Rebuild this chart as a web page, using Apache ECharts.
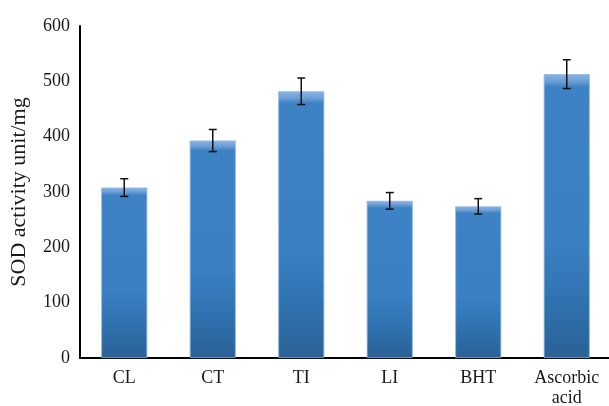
<!DOCTYPE html>
<html>
<head>
<meta charset="utf-8">
<script src="https://cdn.jsdelivr.net/npm/echarts@6/dist/echarts.min.js"></script>
<style>html,body{margin:0;padding:0;background:#fff;}#c{width:609px;height:406px;}</style>
</head>
<body>
<div id="c"></div>
<script>
const categories = ['CL', 'CT', 'TI', 'LI', 'BHT', 'Ascorbic\nacid'];
const values = [308, 393, 482, 284, 274, 513];
const errors = [16, 20, 24, 15, 14, 26];
const yTicks = [0, 100, 200, 300, 400, 500, 600];

const chart = echarts.init(document.getElementById('c'), null, {renderer: 'canvas'});
const font = '"Liberation Serif", "DejaVu Serif", serif';
const errData = values.map((v, i) => [i, v - errors[i], v + errors[i]]);

chart.setOption({
  animation: false,
  backgroundColor: '#fff',
  grid: {left: 80, top: 26, width: 531, height: 332, containLabel: false, outerBoundsMode: 'none'},
  xAxis: {
    type: 'category',
    data: categories,
    axisLine: {lineStyle: {color: '#000', width: 2}},
    axisTick: {show: false},
    axisLabel: {color: '#1a1a1a', fontFamily: font, fontSize: 18, margin: 10, lineHeight: 20}
  },
  yAxis: {
    type: 'value',
    min: yTicks[0], max: yTicks[yTicks.length - 1], interval: 100,
    name: 'SOD activity unit/mg',
    nameLocation: 'middle',
    nameGap: 50,
    nameTextStyle: {color: '#1a1a1a', fontFamily: font, fontSize: 22},
    axisLine: {show: true, lineStyle: {color: '#000', width: 2}},
    axisTick: {show: false},
    splitLine: {show: false},
    axisLabel: {color: '#1a1a1a', fontFamily: font, fontSize: 18, margin: 10}
  },
  series: [
    {
      type: 'bar',
      data: values,
      barWidth: '52%',
      itemStyle: {
        borderColor: '#8db6e2',
        borderWidth: 0.8,
        color: {
          type: 'linear', x: 0, y: 0, x2: 0, y2: 1,
          colorStops: [
            {offset: 0, color: '#8ab4e2'},
            {offset: 0.025, color: '#6c9fd6'},
            {offset: 0.045, color: '#3d82c4'},
            {offset: 0.6, color: '#3a80c2'},
            {offset: 0.8, color: '#2f72b0'},
            {offset: 1, color: '#2b6196'}
          ],
          global: false
        }
      }
    },
    {
      type: 'custom',
      data: errData,
      z: 10,
      renderItem: function (params, api) {
        const x = api.value(0);
        const lo = api.coord([x, api.value(1)]);
        const hi = api.coord([x, api.value(2)]);
        const hw = 4;
        const st = {stroke: '#111', lineWidth: 1.5};
        return {
          type: 'group',
          children: [
            {type: 'line', shape: {x1: lo[0], y1: lo[1], x2: hi[0], y2: hi[1]}, style: st},
            {type: 'line', shape: {x1: lo[0] - hw, y1: lo[1], x2: lo[0] + hw, y2: lo[1]}, style: st},
            {type: 'line', shape: {x1: hi[0] - hw, y1: hi[1], x2: hi[0] + hw, y2: hi[1]}, style: st}
          ]
        };
      }
    }
  ]
});
</script>
</body>
</html>
